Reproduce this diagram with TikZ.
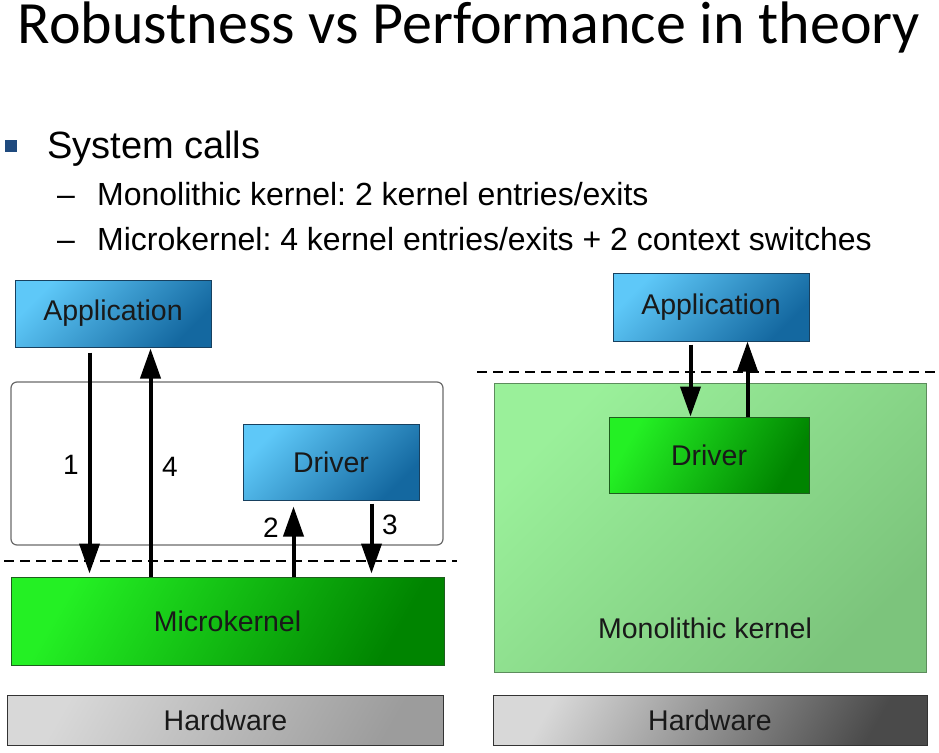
\documentclass[tikz,border=0pt]{standalone}
\usepackage{fontspec}
\setmainfont{Liberation Sans}
\newfontfamily\titlefont{Carlito}
\usetikzlibrary{arrows.meta,calc}
\definecolor{blueA}{HTML}{5EC8F8}
\definecolor{blueB}{HTML}{1468A0}
\definecolor{blueD}{HTML}{17405F}
\definecolor{greenA}{HTML}{24F024}
\definecolor{greenB}{HTML}{008400}
\definecolor{greenD}{HTML}{1E5E1E}
\definecolor{monoA}{HTML}{9AF09A}
\definecolor{monoB}{HTML}{7CC47C}
\definecolor{monoD}{HTML}{5C8C5C}
\definecolor{hwA}{HTML}{D8D8D8}
\definecolor{hwB}{HTML}{9C9C9C}
\definecolor{hwC}{HTML}{4A4A4A}
\definecolor{bulletblue}{HTML}{1F4A7E}
\definecolor{framegray}{HTML}{6A6A6A}
\frenchspacing
\begin{document}
\begin{tikzpicture}[x=1pt,y=-1pt,
  lbl/.style={font=\fontsize{28.5}{31}\selectfont, text=black!90, inner sep=0pt},
  box/.style={draw, line width=1pt, inner sep=0pt, lbl},
  bluebox/.style={box, draw=blueD, left color=blueA, right color=blueB, shading angle=45},
  greenbox/.style={box, draw=greenD, left color=greenA, right color=greenB, shading angle=60},
  monobox/.style={box, draw=monoD, left color=monoA, right color=monoB, shading angle=45},
  hwbox/.style={box, draw=black!80, left color=hwA, right color=#1, shading angle=60},
  arr/.style={line width=4pt, -{Triangle[width=20pt,length=30pt]}},
  sep/.style={line width=2pt, dash pattern=on 10pt off 6pt},
  num/.style={font=\fontsize{28}{30}\selectfont, inner sep=0pt}
]
\useasboundingbox (0,0) rectangle (939,752);
\fill[white] (0,0) rectangle (939,752);

% title and bullets
\node[anchor=base, inner sep=0pt, font=\titlefont\fontsize{60}{66}\selectfont] (title) at (469,44) {Robustness vs Performance in theory};
\node[fill=bulletblue, minimum size=12pt, inner sep=0pt] (bullet) at (11,146) {};
\node[anchor=base west, inner sep=0pt, font=\fontsize{38}{42}\selectfont] (b1) at (47,158) {System calls};
\node[anchor=base west, inner sep=0pt, font=\fontsize{32}{36}\selectfont] (d1) at (57,205) {–};
\node[anchor=base west, inner sep=0pt, font=\fontsize{32}{36}\selectfont] (s1) at (97,205) {Monolithic kernel: 2 kernel entries/exits};
\node[anchor=base west, inner sep=0pt, font=\fontsize{32}{36}\selectfont] (d2) at (57,250) {–};
\node[anchor=base west, inner sep=0pt, font=\fontsize{32}{36}\selectfont] (s2) at (97,250) {Microkernel: 4 kernel entries/exits + 2 context switches};

% left diagram
\node[draw=framegray, line width=1.2pt, rounded corners=6pt, minimum width=432pt, minimum height=163pt, inner sep=0pt] (user) at (227,463.5) {};
\node[bluebox, minimum width=196pt, minimum height=67pt] (appL) at (113,313.5) {Application};
\node[bluebox, minimum width=176pt, minimum height=76pt] (drvL) at (331,462) {Driver};
\node[greenbox, minimum width=433pt, minimum height=88pt] (micro) at (227.5,621) {Microkernel};
\node[hwbox=hwB, minimum width=436pt, minimum height=50pt] (hwL) at (225.5,720) {Hardware};

\coordinate (dL1) at (4,561);
\coordinate (dL2) at (457,561);
\draw[sep] (dL1) -- (dL2);

\draw[arr] ($(appL.south west)+(75,5)$) -- ($(micro.north west)+(79,-3)$);
\draw[arr] ($(micro.north west)+(140,0)$) -- ($(appL.south west)+(136,1)$);
\draw[arr] ($(micro.north west)+(283,0)$) -- ($(drvL.south west)+(51,6)$);
\draw[arr] ($(drvL.south west)+(129,3)$) -- ($(micro.north west)+(361,-3)$);

\node[num] (n1) at (71,465) {1};
\node[num] (n4) at (170,467) {4};
\node[num] (n2) at (271,528) {2};
\node[num] (n3) at (390,525) {3};

% right diagram
\node[monobox, minimum width=432pt, minimum height=289pt] (mono) at (710.5,527.5) {};
\node[lbl] (monotext) at (705,628) {Monolithic kernel};
\node[bluebox, minimum width=196pt, minimum height=68pt] (appR) at (711,307) {Application};
\node[greenbox, minimum width=200pt, minimum height=76pt] (drvR) at (709,455) {Driver};
\node[hwbox=hwC, minimum width=434pt, minimum height=50pt] (hwR) at (710,720) {Hardware};

\coordinate (dR1) at (477,372);
\coordinate (dR2) at (939,372);
\draw[sep] (dR1) -- (dR2);

\draw[arr] ($(appR.south west)+(78,3)$) -- ($(drvR.north west)+(82,0)$);
\draw[arr] ($(drvR.north west)+(139,0)$) -- ($(appR.south west)+(135,0)$);
\end{tikzpicture}
\end{document}
